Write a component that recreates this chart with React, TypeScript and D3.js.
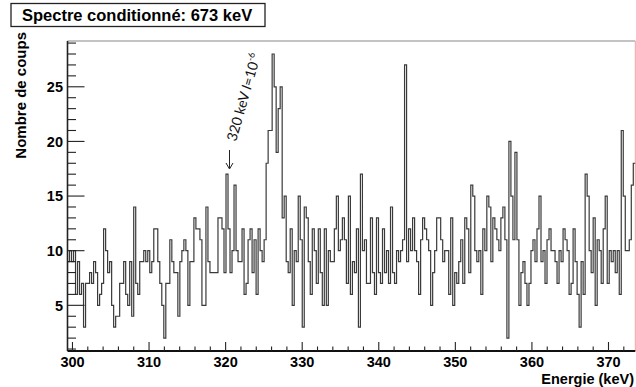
import React from 'react';
import * as d3 from 'd3';

// Histogram counts, read bin by bin from the picture (bin width ~0.26 keV)
const counts300to318 = [9, 10, 9, 10, 6, 9, 6, 7, 3, 7, 7, 8, 7, 9, 8, 5, 6, 7, 12, 10, 8, 9, 5, 3, 4, 4, 7, 7, 9, 6, 5, 9, 4, 14, 7, 6, 9, 9, 10, 9, 10, 8, 9, 12, 12, 9, 7, 5, 2, 7, 7, 11, 9, 8, 8, 4, 9, 10, 11, 10, 5, 9, 9, 13, 12, 12, 11, 5, 5, 14];
const counts318to337 = [9, 8, 8, 8, 8, 13, 13, 12, 8, 17, 12, 8, 10, 16, 10, 9, 9, 12, 6, 7, 11, 12, 8, 11, 6, 12, 10, 9, 11, 18, 21, 21, 28, 25, 19, 23, 25, 13, 15, 9, 8, 12, 5, 10, 9, 15, 11, 3, 14, 13, 9, 6, 12, 10, 7, 12, 8, 5, 12, 5, 10, 9, 9, 12, 15, 10, 11, 13, 11, 7, 15, 6];
const counts337to355 = [9, 8, 12, 3, 17, 10, 11, 7, 7, 13, 8, 6, 13, 8, 7, 12, 8, 10, 7, 14, 8, 7, 10, 9, 10, 11, 27, 9, 12, 10, 13, 10, 9, 6, 11, 13, 12, 11, 10, 5, 8, 10, 13, 13, 11, 9, 10, 10, 6, 13, 5, 8, 7, 9, 11, 7, 13, 12, 8, 16, 15, 10, 9, 10, 6, 12, 10, 15, 14, 9];
const counts355to374 = [13, 12, 11, 10, 13, 14, 11, 2, 20, 15, 11, 19, 11, 5, 8, 9, 7, 5, 7, 10, 11, 9, 12, 15, 9, 10, 7, 11, 12, 10, 10, 9, 7, 10, 9, 12, 11, 10, 6, 7, 12, 9, 6, 3, 9, 6, 17, 15, 10, 8, 13, 5, 11, 10, 7, 12, 15, 7, 10, 9, 10, 8, 10, 6, 21, 15, 10, 10, 11, 16, 18];

const counts = [...counts300to318, ...counts318to337, ...counts337to355, ...counts355to374];

const xDomain = [299.35, 373.5];
const yDomain = [0.82, 29.19];
const xMajorTicks = [300, 310, 320, 330, 340, 350, 360, 370];
const xMinorTicks = d3.range(300, 374, 2);
const yMajorTicks = [5, 10, 15, 20, 25];
const yMinorTicks = d3.range(1, 30, 1);

const titleText = 'Spectre conditionné: 673 keV';
const xTitle = 'Energie (keV)';
const yTitle = 'Nombre de coups';

const W = 636;
const H = 387;
const L = 67.5;
const R = 635.3;
const T = 41;
const B = 351;

export default function App() {
  const x = d3.scaleLinear().domain(xDomain).range([L, R]);
  const y = d3.scaleLinear().domain(yDomain).range([B, T]);
  const n = counts.length;
  const bw = (xDomain[1] - xDomain[0]) / n;

  let d = '';
  counts.forEach((c, i) => {
    const x0 = x(xDomain[0] + i * bw);
    const x1 = x(xDomain[0] + (i + 1) * bw);
    const yy = y(c);
    d += (i === 0 ? `M${x0},${yy}` : `V${yy}`) + `H${x1}`;
  });

  const font = '"Liberation Sans", Arial, sans-serif';

  return (
    <svg width={W} height={H} style={{ position: 'absolute', left: 0, top: 0, background: '#fff' }}>
      {/* title box */}
      <rect x={11} y={3.5} width={254} height={23} fill="#fff" stroke="#222" strokeWidth={1.3} />
      <text x={22} y={21} fontFamily={font} fontWeight="bold" fontSize={16.5} fill="#000">{titleText}</text>

      {/* frame */}
      <line x1={L} x2={R} y1={T} y2={T} stroke="#888" strokeWidth={1.2} />
      <line x1={R} x2={R} y1={T} y2={B} stroke="#f2a0a0" strokeWidth={1} />

      {/* histogram */}
      <path d={d} fill="none" stroke="#3a3a3a" strokeWidth={1.2} />

      {/* y axis */}
      <line x1={L} x2={L} y1={T} y2={B} stroke="#222" strokeWidth={1.6} />
      {yMinorTicks.filter(v => v > yDomain[0] && v < yDomain[1]).map(v => (
        <line key={'ym' + v} x1={L} x2={L + (yMajorTicks.includes(v) ? 17 : 8.5)} y1={y(v)} y2={y(v)} stroke="#222" strokeWidth={1.1} />
      ))}
      {yMajorTicks.map(v => (
        <text key={'yl' + v} x={63} y={y(v)} dy="0.36em" textAnchor="end" fontFamily={font} fontWeight="bold" fontSize={14.5} fill="#000">{v}</text>
      ))}
      <text transform={`translate(26,32) rotate(-90)`} textAnchor="end" fontFamily={font} fontWeight="bold" fontSize={15} fill="#000">{yTitle}</text>

      {/* x axis */}
      <line x1={L} x2={R} y1={B} y2={B} stroke="#111" strokeWidth={2} />
      {xMinorTicks.map(v => (
        <line key={'xm' + v} x1={x(v)} x2={x(v)} y1={B} y2={B - (xMajorTicks.includes(v) ? 9 : 4.5)} stroke="#222" strokeWidth={1.1} />
      ))}
      {xMajorTicks.map(v => (
        <text key={'xl' + v} x={x(v)} y={367} textAnchor="middle" fontFamily={font} fontWeight="bold" fontSize={14.5} fill="#000">{v}</text>
      ))}
      <text x={634} y={384} textAnchor="end" fontFamily={font} fontWeight="bold" fontSize={14.5} fill="#000">{xTitle}</text>

      {/* annotation */}
      <line x1={229.5} x2={229.5} y1={150} y2={168} stroke="#222" strokeWidth={1} />
      <path d="M226,163 L229.5,169 L233,163" fill="none" stroke="#222" strokeWidth={1} />
      <text transform="translate(236,142) rotate(-74)" fontFamily="Lato, 'Open Sans', sans-serif" fontSize={14} fill="#111">
        <tspan>320 keV </tspan>
        <tspan fontStyle="italic">I</tspan>
        <tspan>=10</tspan>
        <tspan dy={-6} fontSize={9}>-6</tspan>
      </text>
    </svg>
  );
}
